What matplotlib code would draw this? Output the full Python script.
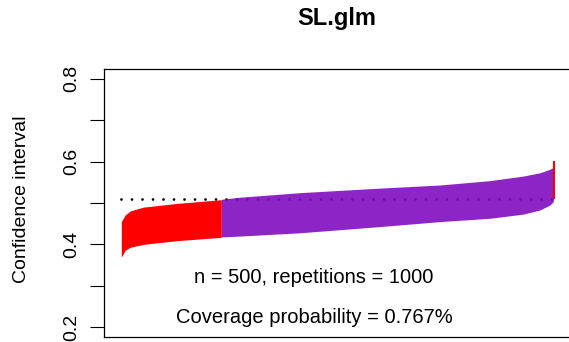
import numpy as np
import matplotlib
matplotlib.use("Agg")
import matplotlib.pyplot as plt

plt.rcParams['font.family'] = ['Liberation Sans', 'DejaVu Sans']

# values (interval index vs. bound)
truth = 0.509
n_rep = 1000
red_idx = [1, 10, 22, 52, 130, 232]
red_lo = [0.369, 0.386, 0.393, 0.400, 0.409, 0.417]
red_hi = [0.455, 0.471, 0.481, 0.490, 0.499, 0.508]

pur_idx = [232, 275, 414, 599, 737, 852, 929, 968, 991, 999]
pur_lo = [0.418, 0.420, 0.428, 0.443, 0.455, 0.463, 0.473, 0.483, 0.495, 0.503]
pur_hi = [0.509, 0.514, 0.525, 0.536, 0.5435, 0.554, 0.565, 0.573, 0.5815, 0.586]

last_idx = 1000
last_lo = 0.510
last_hi = 0.602

yticks = [0.2, 0.4, 0.6, 0.8]
yminor = [0.3, 0.5, 0.7]
info1 = "n = 500, repetitions = 1000"
info2 = "Coverage probability = 0.767%"

W, H = 569, 342
fig = plt.figure(figsize=(W / 100, H / 100), dpi=100)
ax = fig.add_axes([104 / W, 5 / H, (571 - 104) / W, (337 - 69) / H])

ax.plot([1, n_rep], [truth, truth], color='black', lw=2.0,
        linestyle=(0, (0.001, 3.78)), dash_capstyle='round', zorder=1)
ax.fill_between(red_idx, red_lo, red_hi, color='#ff0000', lw=0, zorder=2)
ax.fill_between(pur_idx, pur_lo, pur_hi, color=(129 / 255, 12 / 255, 192 / 255),
                alpha=0.9, lw=0, zorder=3)
ax.vlines(last_idx, last_lo, last_hi, color='#ff0000', lw=1.5, zorder=4)

ax.set_xlim(-39, 1040)
ax.set_ylim(0.176, 0.824)
ax.set_xticks([])
ax.set_yticks(yticks)
ax.set_yticklabels([str(t) for t in yticks], rotation=90, va='center')
ax.set_yticks(yminor, minor=True)
ax.tick_params(axis='y', which='both', length=9.8, width=0.8, pad=7)
ax.tick_params(axis='y', labelsize=14)
for s in ax.spines.values():
    s.set_linewidth(0.9)

ax.text(446, 0.321, info1, ha='center', va='center', fontsize=14.5)
ax.text(446, 0.222, info2, ha='center', va='center', fontsize=14.5)

fig.text(337 / W, 1 - 18 / H, "SL.glm", ha='center', va='center',
         fontsize=17, fontweight='bold')
fig.text(22 / W, 1 - 199 / H, "Confidence interval", rotation=90,
         ha='center', va='center', fontsize=14)

fig.savefig("out.png", dpi=100)
